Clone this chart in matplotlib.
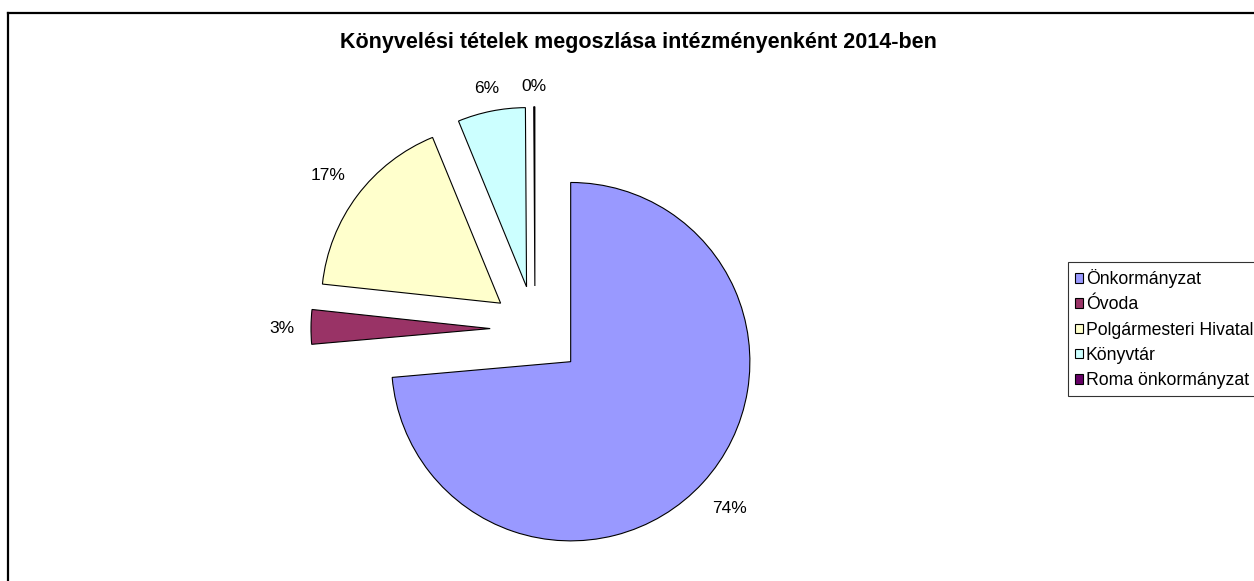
import numpy as np
import matplotlib.pyplot as plt
from matplotlib.lines import Line2D

plt.rcParams['font.family'] = ['Liberation Sans', 'DejaVu Sans']

# data
categories = ['Önkormányzat', 'Óvoda', 'Polgármesteri Hivatal', 'Könyvtár', 'Roma önkormányzat']
shares = [73.6, 3.1, 17.1, 6.1, 0.1]
pct_labels = ['74%', '3%', '17%', '6%', '0%']
colors = ['#9999FF', '#993366', '#FFFFCC', '#CCFFFF', '#660066']
explode = [0.27, 0.25, 0.24, 0.24, 0.24]

W, H = 1254, 581
fig = plt.figure(figsize=(W / 100, H / 100), dpi=100)

# chart border (runs off the right / bottom edge)
fx, fy = 7.5 / W, 1 - 13 / H
fig.add_artist(Line2D([fx, fx], [0, fy], color='black', lw=1.6))
fig.add_artist(Line2D([fx, 1], [fy, fy], color='black', lw=1.6))

fig.text(638 / W, 1 - 48 / H, 'Könyvelési tételek megoszlása intézményenként 2014-ben',
         ha='center', va='baseline', fontsize=15.5, fontweight='bold')

# pie axes: centre (535, 329) px, radius 140 px
side = 448
cx, cy = 535, 329
ax = fig.add_axes([(cx - side / 2) / W, (H - cy - side / 2) / H, side / W, side / H])
ax.set_xlim(-1.6, 1.6)
ax.set_ylim(-1.6, 1.6)
ax.axis('off')

wedges, _ = ax.pie(shares, colors=colors, explode=explode, startangle=90,
                   counterclock=False, radius=1,
                   wedgeprops=dict(edgecolor='black', linewidth=0.8))

# percent labels just outside each (exploded) wedge
px = 140.0
for w, lab, ex in zip(wedges, pct_labels, explode):
    a = np.deg2rad((w.theta1 + w.theta2) / 2)
    c, s = np.cos(a), np.sin(a)
    tw = 11.5 * len(lab)
    ext = (abs(c) * tw / 2 + abs(s) * 6) / px
    d = ex + 1.08 + ext
    ax.text(d * c, d * s, lab, ha='center', va='center_baseline', fontsize=12.5, color='black')

leg = fig.legend(wedges, categories, loc='upper left',
                 bbox_to_anchor=(1068 / W, 1 - 262 / H), borderaxespad=0,
                 fontsize=12.7, frameon=True, fancybox=False, edgecolor='black',
                 handlelength=0.45, handleheight=0.45, handletextpad=0.15,
                 labelspacing=0.47, borderpad=0.4)
leg.get_frame().set_linewidth(0.8)

fig.savefig('out.png', dpi=100)
